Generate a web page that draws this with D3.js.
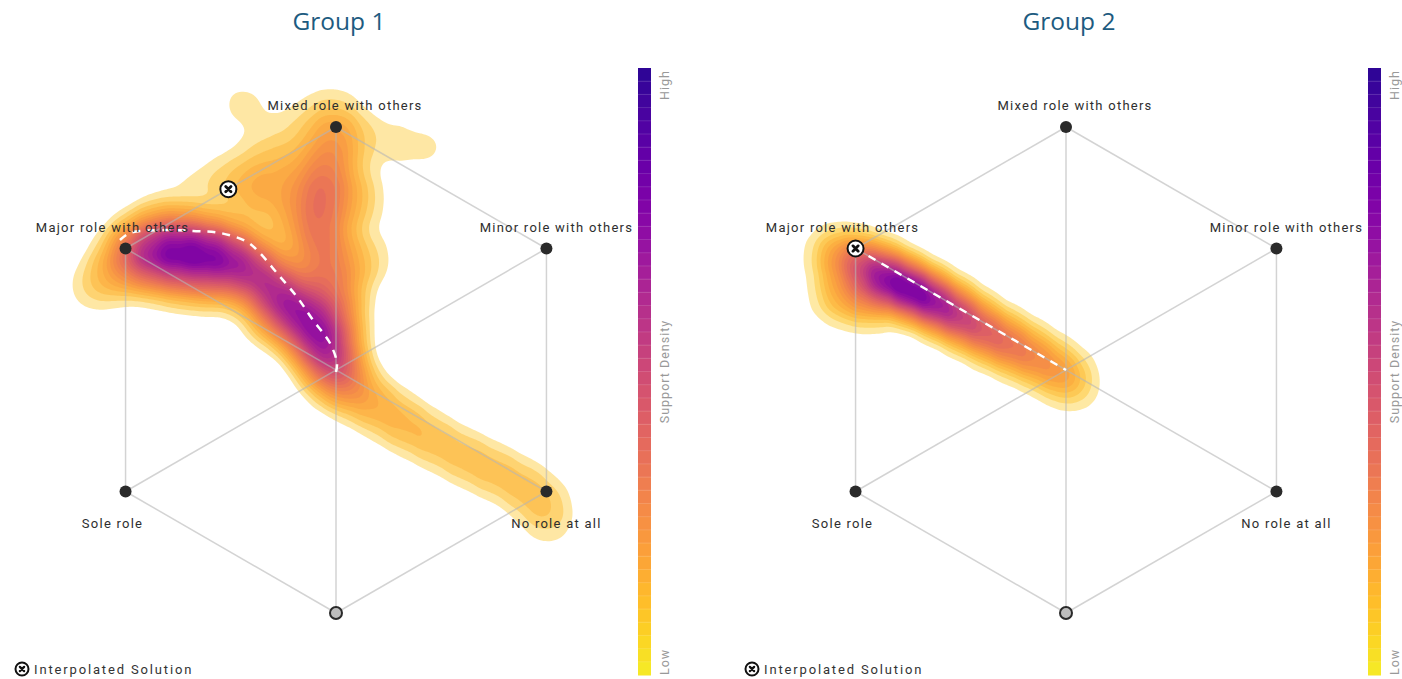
<!DOCTYPE html>
<html>
<head>
<meta charset="utf-8">
<script src="https://cdn.jsdelivr.net/npm/d3@7"></script>
<style>
  body { margin: 0; background: #fff; }
  text { font-family: Roboto, "Open Sans", sans-serif; }
</style>
</head>
<body>
<svg id="chart"></svg>
<script>
const groups = ["Group 1", "Group 2"];
const vertexLabels = ["Mixed role with others", "Minor role with others", "No role at all", "", "Sole role", "Major role with others"];
const vertexActive = [true, true, true, false, true, true];

// support points in hexagon units [u, v, weight]
const group1Support = [
    // major role blob
    [-0.848, 0.494, 4], [-0.745, 0.514, 6], [-0.642, 0.514, 7], [-0.539, 0.502, 7],
    [-0.436, 0.473, 6.5], [-0.765, 0.412, 4], [-0.621, 0.391, 5], [-0.477, 0.370, 4],
    [-0.930, 0.391, 2], [-1.012, 0.329, 1],
    // band towards the centre
    [-0.333, 0.412, 6.5], [-0.251, 0.329, 6.5], [-0.181, 0.255, 6], [-0.115, 0.185, 6],
    [-0.058, 0.103, 6.5], [-0.012, 0.021, 5.5], [-0.272, 0.206, 2],
    // mixed role branch
    [0.000, 0.967, 3.5], [-0.033, 0.823, 4], [-0.058, 0.679, 5], [-0.058, 0.514, 5.5],
    [-0.025, 0.350, 5], [0.008, 0.206, 4], [-0.148, 0.782, 1.5], [-0.189, 0.617, 2],
    [0.099, 0.700, 2], [0.119, 0.453, 2], [-0.189, 0.947, 1], [0.202, 0.947, 1.2],
    [0.346, 0.905, 0.6], [0.000, 1.111, 0.8], [0.428, 0.926, 0.6], [-0.148, 1.070, 0.6],
    // upper left spread
    [-0.374, 1.070, 0.6], [-0.395, 1.111, 0.7], [-0.292, 0.864, 1.3], [-0.436, 0.802, 1.2],
    [-0.560, 0.741, 1], [-0.724, 0.679, 1], [-0.354, 0.700, 1.8], [-0.272, 0.761, 1.4],
    // no role branch
    [0.037, -0.062, 3.5], [0.160, -0.144, 2.5], [0.284, -0.226, 2.2], [0.407, -0.296, 1.8],
    [0.531, -0.362, 1.8], [0.654, -0.420, 1.8], [0.778, -0.481, 1.7], [0.872, -0.556, 1.4],
    [0.872, -0.650, 0.9]
];
const group2Support = [
    [-0.951, 0.473, 1.5], [-0.848, 0.444, 3], [-0.745, 0.391, 5], [-0.642, 0.329, 6],
    [-0.539, 0.276, 5], [-0.436, 0.218, 4], [-0.333, 0.156, 3], [-0.230, 0.103, 2.5],
    [-0.128, 0.049, 2], [-0.025, -0.008, 1.5], [0.033, -0.062, 0.7],
    [-0.930, 0.309, 1.5], [-0.807, 0.288, 2]
];
const supports = [group1Support, group2Support];
const bandwidths = [19, 16];
const lowCut = [0.06, 0.035];

// dashed solution paths
const group1Path = [
    [-0.889, 0.535], [-0.848, 0.564], [-0.724, 0.576], [-0.588, 0.572], [-0.477, 0.564],
    [-0.366, 0.527], [-0.313, 0.481], [-0.243, 0.399], [-0.160, 0.300], [-0.095, 0.206],
    [-0.025, 0.111], [0.004, 0.029], [0.000, -0.008]
];
const group2Path = [[-0.866, 0.5], [0.0, 0.0]];
const paths = [group1Path, group2Path];

// interpolated solutions
const solutions = [[-0.443, 0.744], [-0.866, 0.5]];

const colorbarLabels = ["High", "Support Density", "Low"];
const legendLabel = "Interpolated Solution";

const width = 1402;
const height = 679;
const panelW = 730;
const R = 243;
const cx = 336;
const cy = 370;

const svg = d3.select("#chart")
    .attr("width", width)
    .attr("height", height)
    .attr("viewBox", [0, 0, width, height]);

const x = d3.scaleLinear().domain([-1, 1]).range([cx - R, cx + R]);
const y = d3.scaleLinear().domain([-1, 1]).range([cy + R, cy - R]);

const vertices = d3.range(6).map(i => {
    const a = (90 - i * 60) * Math.PI / 180;
    return [Math.cos(a), Math.sin(a)];
});

const colorOf = s => d3.interpolatePlasma(0.92 - 0.74 * s);

groups.forEach((name, gi) => {
    const g = svg.append("g").attr("transform", `translate(${gi * panelW},0)`);

    g.append("text")
        .attr("x", cx + 3)
        .attr("y", 30)
        .attr("text-anchor", "middle")
        .style("font-family", "'Open Sans', sans-serif")
        .style("font-size", "24.5px")
        .attr("fill", "#1d5b80")
        .text(name);

    // density
    const density = d3.contourDensity()
        .x(d => x(d[0]))
        .y(d => y(d[1]))
        .weight(d => d[2])
        .size([panelW, height])
        .cellSize(2)
        .bandwidth(bandwidths[gi]);
    const contours = density.contours(supports[gi]);
    const maxD = contours.max;
    const N = 24;
    const levels = d3.range(N).map(i => maxD * (lowCut[gi] + (0.98 - lowCut[gi]) * i / N));

    g.append("g")
        .selectAll("path")
        .data(levels)
        .join("path")
        .attr("d", t => d3.geoPath()(contours(t)))
        .attr("fill", t => colorOf(t / maxD))
        .attr("fill-opacity", 0.42);

    // hexagon frame
    const edges = [[0, 1], [1, 2], [2, 3], [3, 4], [4, 5], [5, 0], [0, 3], [1, 4], [2, 5]];
    g.append("g")
        .selectAll("line")
        .data(edges)
        .join("line")
        .attr("x1", d => x(vertices[d[0]][0]))
        .attr("y1", d => y(vertices[d[0]][1]))
        .attr("x2", d => x(vertices[d[1]][0]))
        .attr("y2", d => y(vertices[d[1]][1]))
        .attr("stroke", "#b5b5b5")
        .attr("stroke-opacity", 0.6)
        .attr("stroke-width", 1.5);

    // solution path
    g.append("path")
        .datum(paths[gi])
        .attr("d", d3.line().x(d => x(d[0])).y(d => y(d[1])).curve(d3.curveCatmullRom))
        .attr("fill", "none")
        .attr("stroke", "#fff")
        .attr("stroke-width", 2.5)
        .attr("stroke-dasharray", "8,7");

    // vertices
    g.append("g")
        .selectAll("circle")
        .data(vertices)
        .join("circle")
        .attr("cx", d => x(d[0]))
        .attr("cy", d => y(d[1]))
        .attr("r", 6)
        .attr("fill", (d, i) => vertexActive[i] ? "#2a2a2a" : "#bdbdbd")
        .attr("stroke", "#2a2a2a")
        .attr("stroke-width", (d, i) => vertexActive[i] ? 0 : 2);

    g.append("g")
        .selectAll("text")
        .data(vertices)
        .join("text")
        .attr("x", (d, i) => x(d[0]) + (i === 0 ? 9 : d[0] > 0 ? 10 : -13))
        .attr("y", d => y(d[1]) + (d[1] > 0 ? -17 : 36))
        .attr("text-anchor", "middle")
        .style("font-size", "13px")
        .style("letter-spacing", "1.25px")
        .attr("fill", "#2e2e2e")
        .text((d, i) => vertexLabels[i]);

    // interpolated solution marker
    const s = solutions[gi];
    drawMarker(g, x(s[0]), y(s[1]), 8);

    // colorbar
    const barX = 638, barTop = 68, barBottom = 675, barW = 13, steps = 46;
    const bandH = (barBottom - barTop) / steps;
    const cb = g.append("g");
    cb.selectAll("rect")
        .data(d3.range(steps))
        .join("rect")
        .attr("x", barX)
        .attr("y", i => barTop + i * bandH)
        .attr("width", barW)
        .attr("height", bandH + 0.5)
        .attr("fill", i => d3.interpolatePlasma(0.06 + 0.9 * i / (steps - 1)));
    cb.selectAll("line")
        .data(d3.range(1, steps))
        .join("line")
        .attr("x1", barX).attr("x2", barX + barW)
        .attr("y1", i => barTop + i * bandH).attr("y2", i => barTop + i * bandH)
        .attr("stroke", "#fff").attr("stroke-opacity", 0.18).attr("stroke-width", 0.8);

    const labelX = 669;
    const cbLabels = [[barTop + 2, "end"], [(barTop + barBottom) / 2, "middle"], [barBottom, "start"]];
    cb.selectAll("text")
        .data(colorbarLabels)
        .join("text")
        .attr("transform", (d, i) => `translate(${labelX},${cbLabels[i][0]}) rotate(-90)`)
        .attr("text-anchor", (d, i) => cbLabels[i][1])
        .style("font-size", "12.5px")
        .style("letter-spacing", "1px")
        .attr("fill", "#999")
        .text(d => d);

    // legend
    drawMarker(g, 22, 669, 6.5);
    g.append("text")
        .attr("x", 34)
        .attr("y", 674)
        .style("font-size", "13px")
        .style("letter-spacing", "1.85px")
        .attr("fill", "#333")
        .text(legendLabel);
});

function drawMarker(g, px, py, r) {
    const m = g.append("g").attr("transform", `translate(${px},${py})`);
    m.append("circle").attr("r", r).attr("fill", "#fff").attr("stroke", "#111").attr("stroke-width", 2);
    const k = r * 0.33;
    m.append("path")
        .attr("d", `M${-k},${-k}L${k},${k}M${k},${-k}L${-k},${k}`)
        .attr("stroke", "#111")
        .attr("stroke-width", r * 0.35)
        .attr("stroke-linecap", "round");
}
</script>
</body>
</html>
